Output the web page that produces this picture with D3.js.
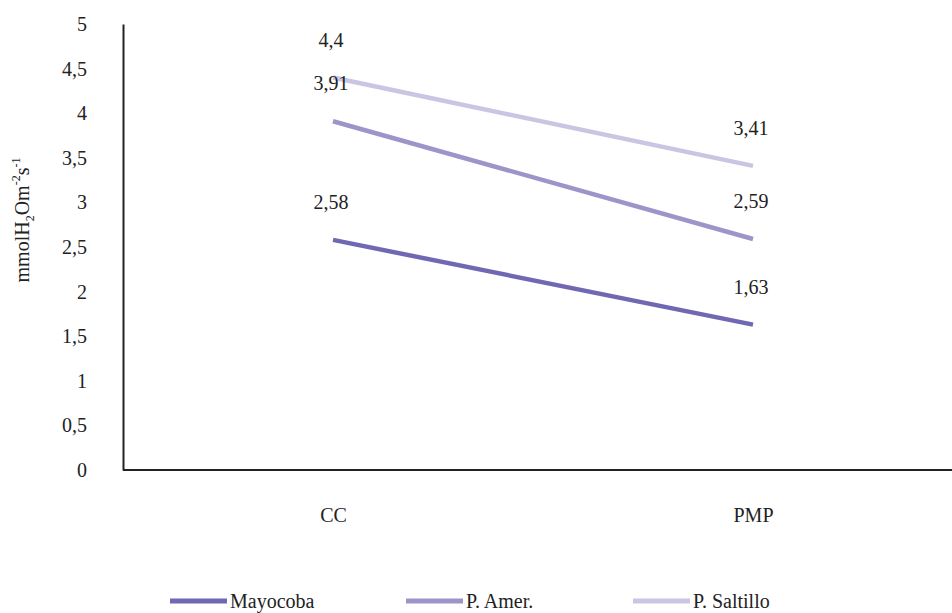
<!DOCTYPE html>
<html><head><meta charset="utf-8">
<script src="https://cdn.jsdelivr.net/npm/d3@7/dist/d3.min.js"></script>
<style>body{margin:0;background:#fff}</style>
</head><body><svg id="c" width="952" height="613"></svg>
<script>
const categories = ["CC", "PMP"];
const seriesNames = ["Mayocoba", "P. Amer.", "P. Saltillo"];
const mayocoba = [2.58, 1.63];
const pAmer = [3.91, 2.59];
const pSaltillo = [4.4, 3.41];
const yTicks = [0, 0.5, 1, 1.5, 2, 2.5, 3, 3.5, 4, 4.5, 5];
const colors = ["#7068b2", "#9c95c9", "#c9c5e2"];

const series = [mayocoba, pAmer, pSaltillo].map((v, i) => ({name: seriesNames[i], values: v, color: colors[i]}));
const svg = d3.select("#c");
const fmt = d => String(d).replace(".", ",");
const FF = "serif";
const TC = "#222";

const x = d3.scalePoint().domain(categories).range([123, 963]).padding(0.5);
const y = d3.scaleLinear().domain([0, 5]).range([470, 24]);

// axes
const yAxis = svg.append("g").attr("transform", "translate(123,0)")
  .call(d3.axisLeft(y).tickValues(yTicks).tickSize(0).tickPadding(36).tickFormat(fmt));
yAxis.attr("font-family", null).attr("font-size", null);
yAxis.selectAll("text").attr("fill", TC).attr("font-family", FF).attr("font-size", 20);
yAxis.select(".domain").attr("stroke", TC).attr("stroke-width", 2);

const xAxis = svg.append("g").attr("transform", "translate(0,470)")
  .call(d3.axisBottom(x).tickSize(0).tickPadding(38));
xAxis.attr("font-family", null).attr("font-size", null);
xAxis.selectAll("text").attr("fill", TC).attr("font-family", FF).attr("font-size", 20);
xAxis.select(".domain").attr("d", "M123,0H952").attr("stroke", TC).attr("stroke-width", 2);

// y title
const yt = svg.append("text").attr("transform", "translate(29,220) rotate(-90)")
  .attr("text-anchor", "middle").attr("font-family", FF).attr("font-size", 20).attr("fill", TC);
yt.append("tspan").text("mmolH");
yt.append("tspan").text("2").attr("font-size", 12).attr("dy", 5);
yt.append("tspan").text("Om").attr("dy", -5);
yt.append("tspan").text("-2").attr("font-size", 12).attr("dy", -9);
yt.append("tspan").text("s").attr("dy", 9);
yt.append("tspan").text("-1").attr("font-size", 12).attr("dy", -9);

// lines
const line = d3.line().x((d, i) => x(categories[i])).y(d => y(d));
svg.selectAll(".ser").data(series).enter().append("path")
  .attr("d", d => line(d.values)).attr("fill", "none")
  .attr("stroke", d => d.color).attr("stroke-width", 4.5);

// labels
series.forEach(s => {
  svg.selectAll(null).data(s.values).enter().append("text")
    .attr("x", (d, i) => x(categories[i]) - 2)
    .attr("y", d => y(d) - 31)
    .attr("text-anchor", "middle").attr("font-family", FF).attr("font-size", 20).attr("fill", TC)
    .text(fmt);
});

// legend
const legX = [170, 406, 633];
series.forEach((s, i) => {
  svg.append("line").attr("x1", legX[i]).attr("x2", legX[i] + 57)
    .attr("y1", 601).attr("y2", 601).attr("stroke", s.color).attr("stroke-width", 5);
  svg.append("text").attr("x", legX[i] + 60).attr("y", 608).attr("font-family", FF).attr("font-size", 20).attr("fill", TC).text(s.name);
});
</script></body></html>
